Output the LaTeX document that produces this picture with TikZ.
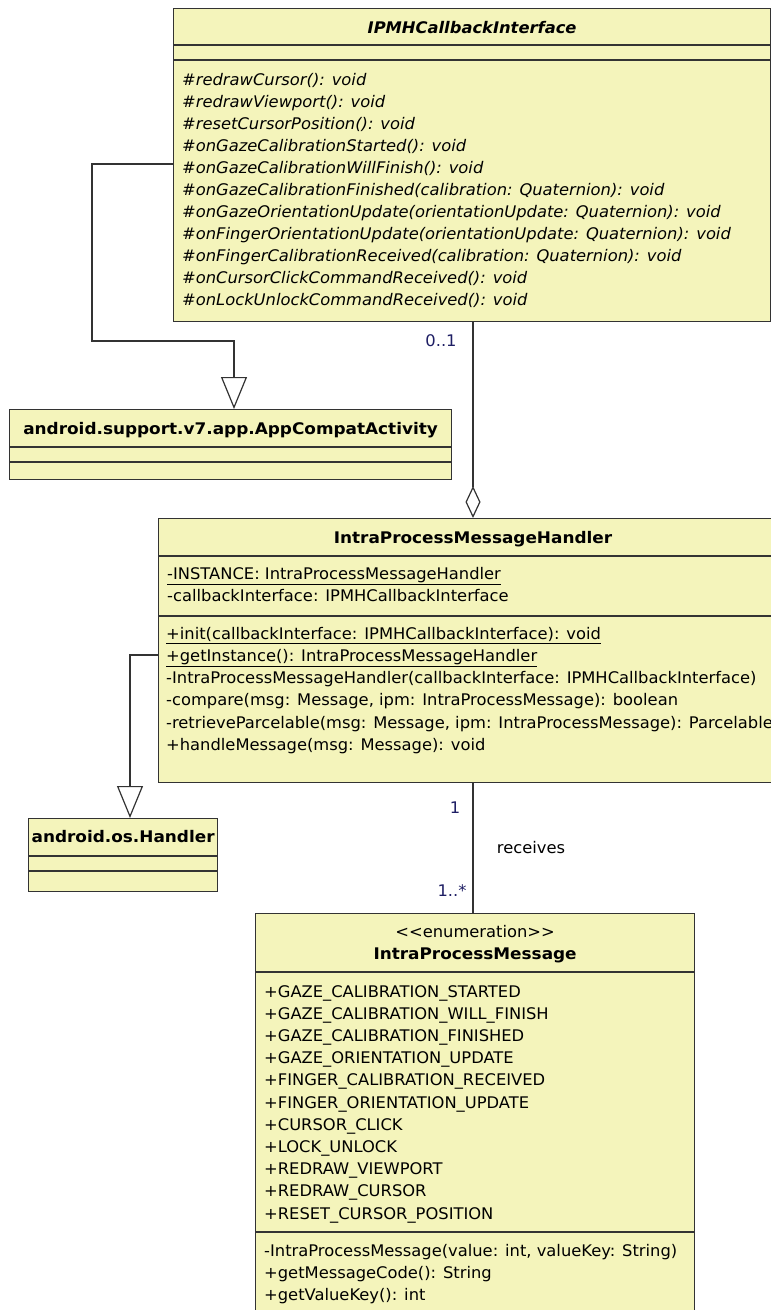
\documentclass[tikz,border=0pt]{standalone}
\usepackage{fontspec}
\setmainfont{DejaVu Sans}[FakeStretch=1.02,BoldFeatures={FakeStretch=1.055}]
\usetikzlibrary{arrows.meta}
\definecolor{classfill}{RGB}{244,244,187}
\definecolor{multtext}{RGB}{30,30,100}
\newcommand{\umlfont}{\fontsize{16}{19}\selectfont}

\begin{document}
\begin{tikzpicture}[x=1pt,y=-1pt]
		\useasboundingbox[fill=white] (0,0) rectangle (771,1310);
		\tikzstyle{classbox}=[draw=black!80,fill=classfill,line width=1.2pt,anchor=north west,inner sep=0pt]
		\tikzstyle{classname}=[font=\umlfont\bfseries,anchor=base,inner sep=0pt]
		\tikzstyle{member}=[font=\umlfont,anchor=base west,inner sep=0pt]
		\tikzstyle{mult}=[font=\umlfont,text=multtext,anchor=base,inner sep=0pt]
		\tikzstyle{link}=[draw=black!80,line width=1.2pt]
		\tikzstyle{gen}=[link,-{Triangle[open,width=26pt,length=32pt]}]
		\tikzstyle{aggr}=[link,{Diamond[open,width=15pt,length=32pt]}-]
		% IPMHCallbackInterface
		\node[classbox,minimum width=597pt,minimum height=313pt] (c_ipmh) at (173,8) {};
		\draw[link] (c_ipmh.west |- 0,45) -- (c_ipmh.east |- 0,45);
		\draw[link] (c_ipmh.west |- 0,60) -- (c_ipmh.east |- 0,60);
		\node[classname,font=\umlfont\bfseries\itshape] (n_ipmh) at (c_ipmh.north |- 0,33) {IPMHCallbackInterface};
		\foreach \m [count=\i] in {\#redrawCursor(): void, \#redrawViewport(): void, \#resetCursorPosition(): void,
			\#onGazeCalibrationStarted(): void, \#onGazeCalibrationWillFinish(): void,
			\#onGazeCalibrationFinished(calibration: Quaternion): void,
			\#onGazeOrientationUpdate(orientationUpdate: Quaternion): void,
			\#onFingerOrientationUpdate(orientationUpdate: Quaternion): void,
			\#onFingerCalibrationReceived(calibration: Quaternion): void,
			\#onCursorClickCommandReceived(): void, \#onLockUnlockCommandReceived(): void}
			\node[member,font=\umlfont\itshape] (m_ipmh_\i) at (182,63+22*\i) {\m};
		% AppCompatActivity
		\node[classbox,minimum width=442pt,minimum height=70pt] (c_act) at (9,409) {};
		\draw[link] (c_act.west |- 0,447) -- (c_act.east |- 0,447);
		\draw[link] (c_act.west |- 0,462) -- (c_act.east |- 0,462);
		\node[classname] (n_act) at (c_act.north |- 0,434) {android.support.v7.app.AppCompatActivity};
		% IntraProcessMessageHandler
		\node[classbox,minimum width=630pt,minimum height=264pt] (c_iph) at (158,518) {};
		\draw[link] (c_iph.west |- 0,556) -- (c_iph.east |- 0,556);
		\draw[link] (c_iph.west |- 0,616) -- (c_iph.east |- 0,616);
		\node[classname] (n_iph) at (473,543) {IntraProcessMessageHandler};
		\foreach \m [count=\i] in {\underline{-INSTANCE: IntraProcessMessageHandler},
			-callbackInterface: IPMHCallbackInterface}
			\node[member] (a_iph_\i) at (167,557+22*\i) {\m};
		\foreach \m [count=\i] in {\underline{+init(callbackInterface: IPMHCallbackInterface): void},
			\underline{+getInstance(): IntraProcessMessageHandler},
			-IntraProcessMessageHandler(callbackInterface: IPMHCallbackInterface),
			{-compare(msg: Message, ipm: IntraProcessMessage): boolean},
			{-retrieveParcelable(msg: Message, ipm: IntraProcessMessage): Parcelable},
			+handleMessage(msg: Message): void}
			\node[member] (m_iph_\i) at (166,617+22.2*\i) {\m};
		% android.os.Handler
		\node[classbox,minimum width=189pt,minimum height=73pt] (c_hdl) at (28,818) {};
		\draw[link] (c_hdl.west |- 0,856) -- (c_hdl.east |- 0,856);
		\draw[link] (c_hdl.west |- 0,871) -- (c_hdl.east |- 0,871);
		\node[classname] (n_hdl) at (c_hdl.north |- 0,842) {android.os.Handler};
		% IntraProcessMessage
		\node[classbox,minimum width=439pt,minimum height=420pt] (c_ipm) at (255,913) {};
		\draw[link] (c_ipm.west |- 0,972) -- (c_ipm.east |- 0,972);
		\draw[link] (c_ipm.west |- 0,1232) -- (c_ipm.east |- 0,1232);
		\node[font=\umlfont,anchor=base,inner sep=0pt] (s_ipm) at (c_ipm.north |- 0,937) {<\kern0pt<enumeration>\kern0pt>};
		\node[classname] (n_ipm) at (c_ipm.north |- 0,959) {IntraProcessMessage};
		\foreach \m [count=\i] in {+GAZE\_CALIBRATION\_STARTED, +GAZE\_CALIBRATION\_WILL\_FINISH,
			+GAZE\_CALIBRATION\_FINISHED, +GAZE\_ORIENTATION\_UPDATE, +FINGER\_CALIBRATION\_RECEIVED,
			+FINGER\_ORIENTATION\_UPDATE, +CURSOR\_CLICK, +LOCK\_UNLOCK, +REDRAW\_VIEWPORT,
			+REDRAW\_CURSOR, +RESET\_CURSOR\_POSITION}
			\node[member] (a_ipm_\i) at (264,974.8+22.2*\i) {\m};
		\foreach \m [count=\i] in {{-IntraProcessMessage(value: int, valueKey: String)},
			+getMessageCode(): String, +getValueKey(): int}
			\node[member] (m_ipm_\i) at (264,1234+22*\i) {\m};
		% connectors
		\draw[gen] (c_ipmh.west |- 0,164) -| (92,341) -| (c_act.north -| 234,0);
		\draw[gen] (c_iph.west |- 0,655) -| (c_hdl.north -| 130,0);
		\draw[aggr] (c_iph.north -| 473,0) -- (c_ipmh.south -| 473,0);
		\draw[link] (c_iph.south -| 473,0) -- (c_ipm.north -| 473,0);
		\node[mult] (l_01) at (441,346) {0..1};
		\node[mult] (l_1) at (455,813) {1};
		\node[mult] (l_1n) at (452,896) {1..*};
		\node[font=\umlfont,anchor=base,inner sep=0pt] (l_rcv) at (531,853) {receives};
	\end{tikzpicture}
\end{document}
